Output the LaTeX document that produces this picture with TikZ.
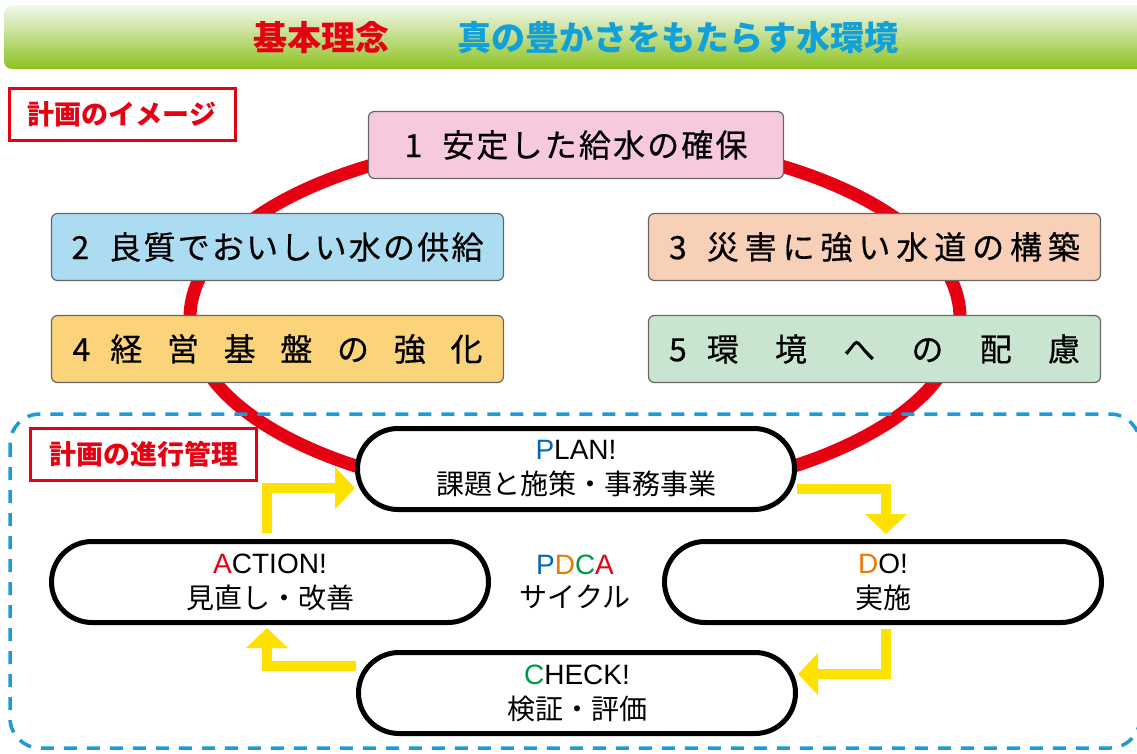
\documentclass[tikz,border=0pt]{standalone}
\usepackage{fontspec}
\setmainfont{Noto Sans CJK JP}
\newfontfamily\jpm{Noto Sans CJK JP}[FakeBold=0.5]
\newfontfamily\lat{Liberation Sans}
\usetikzlibrary{arrows.meta,shapes.misc}
\definecolor{jred}{HTML}{E60012}
\definecolor{jblue}{HTML}{12A0D8}
\definecolor{dblue}{HTML}{1E9BD7}
\definecolor{pblue}{HTML}{0068B7}
\definecolor{dorange}{HTML}{EE7800}
\definecolor{cgreen}{HTML}{009944}
\definecolor{yel}{HTML}{FFE100}
\definecolor{hdtop}{HTML}{F3F8EE}
\definecolor{hdbot}{HTML}{8CC21F}
\definecolor{fpink}{HTML}{F6C9DD}
\definecolor{fblue}{HTML}{ACDCF2}
\definecolor{fpeach}{HTML}{F8D0B8}
\definecolor{fyel}{HTML}{FBD37B}
\definecolor{fgreen}{HTML}{C9E5CF}
\newcommand\fsz[2]{\fontsize{#1pt}{#2pt}\selectfont}
\begin{document}
\begin{tikzpicture}[x=1pt,y=-1pt,
  themebox/.style={draw=black!60, line width=1.2pt, rounded corners=6pt,
    minimum height=67pt, inner sep=0pt, font=\jpm\fsz{32}{38}},
  pdcabox/.style={rounded rectangle, draw=black, line width=5pt, fill=white,
    minimum width=437pt, minimum height=81pt, inner sep=0pt, align=center,
    font=\fsz{28}{35}},
  redlbl/.style={draw=jred, line width=3pt, minimum width=226pt,
    minimum height=52pt, inner sep=0pt, text=jred, font=\fsz{27}{30}\bfseries},
  yarrow/.style={draw=yel, line width=10pt, line cap=butt, line join=miter,
    -{Triangle[length=20pt,width=41pt]}}]
\useasboundingbox (0,0) rectangle (1137,753);
% header
\shade[top color=hdtop, bottom color=hdbot, rounded corners=8pt] (4,5) rectangle (1170,69);
\node[text=jred, font=\fsz{34}{36}\bfseries] (kihon) at (321,38) {基本理念};
\node[text=jblue, font=\fsz{34}{36}\bfseries] (motto) at (678,38) {真の豊かさをもたらす水環境};
% label
\node[redlbl] (img) at (122,114.5) {計画のイメージ};
% ellipse
\draw[jred, line width=13pt] (575,318) ellipse [x radius=385pt, y radius=180pt];
% theme boxes
\node[themebox, fill=fpink, minimum width=415pt] (t1) at (576,145)
  {\hbox to 343pt{1\hskip 20pt 安\hfill 定\hfill し\hfill た\hfill 給\hfill 水\hfill の\hfill 確\hfill 保}};
\node[themebox, fill=fblue, minimum width=452pt] (t2) at (277.5,247)
  {\hbox to 412pt{2\hskip 20pt 良\hfill 質\hfill で\hfill お\hfill い\hfill し\hfill い\hfill 水\hfill の\hfill 供\hfill 給}};
\node[themebox, fill=fpeach, minimum width=452pt] (t3) at (874.5,247)
  {\hbox to 411pt{3\hskip 20pt 災\hfill 害\hfill に\hfill 強\hfill い\hfill 水\hfill 道\hfill の\hfill 構\hfill 築}};
\node[themebox, fill=fyel, minimum width=452pt] (t4) at (277.5,349)
  {\hbox to 410pt{4\hskip 20pt 経\hfill 営\hfill 基\hfill 盤\hfill の\hfill 強\hfill 化}};
\node[themebox, fill=fgreen, minimum width=452pt] (t5) at (874.5,349)
  {\hbox to 411pt{5\hskip 20pt 環\hfill 境\hfill へ\hfill の\hfill 配\hfill 慮}};
% dashed frame
\draw[dblue, line width=3.5pt, dash pattern=on 13pt off 10pt, rounded corners=30pt]
  (10,414) rectangle (1140,748);
\node[redlbl] (prog) at (143.5,454.5) {計画の進行管理};
% PDCA boxes
\node[pdcabox] (plan) at (576,469) {{\lat{\color{pblue}P}LAN!}\\課題と施策・事務事業};
\node[pdcabox] (action) at (270,582) {{\lat{\color{jred}A}CTION!}\\見直し・改善};
\node[pdcabox] (do) at (883,582) {{\lat{\color{dorange}D}O!}\\実施};
\node[pdcabox] (check) at (577,693) {{\lat{\color{cgreen}C}HECK!}\\検証・評価};
\node[align=center, font=\fsz{28}{33}] (cycle) at (575,582)
  {{\lat{\color{pblue}P}{\color{dorange}D}{\color{cgreen}C}{\color{jred}A}}\\サイクル};
% arrows
\draw[yarrow] ([xshift=-3pt,yshift=6pt]action.north) |- ([yshift=-19pt]plan.west);
\draw[yarrow] ([yshift=-20pt]plan.east) -| ([xshift=3pt,yshift=5pt]do.north);
\draw[yarrow] ([xshift=3pt,yshift=-4pt]do.south) |- ([yshift=19pt]check.east);
\draw[yarrow] ([yshift=27pt]check.west) -| ([xshift=-3pt,yshift=-3pt]action.south);
\end{tikzpicture}
\end{document}
